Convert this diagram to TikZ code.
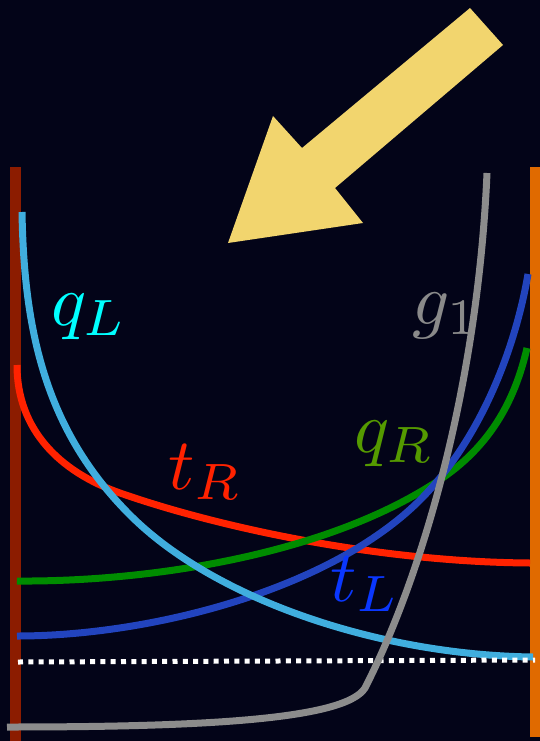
\documentclass[tikz,border=0pt]{standalone}
\usepackage{graphicx}
\definecolor{bg}{RGB}{3,4,24}
\definecolor{lbar}{RGB}{140,28,0}
\definecolor{rbar}{RGB}{224,106,0}
\definecolor{arrowyel}{RGB}{242,213,110}
\definecolor{cqL}{RGB}{64,174,222}
\definecolor{ctR}{RGB}{255,34,0}
\definecolor{cqR}{RGB}{0,140,0}
\definecolor{ctL}{RGB}{34,68,190}
\definecolor{cg}{RGB}{140,140,140}
\definecolor{lqL}{RGB}{0,255,255}
\definecolor{ltR}{RGB}{255,34,0}
\definecolor{lqR}{RGB}{85,154,0}
\definecolor{ltL}{RGB}{10,55,255}
\definecolor{lg}{RGB}{138,138,138}
\newcommand{\biglab}[1]{\scalebox{7.3}{$#1$}}
\tikzset{
  curve/.style={line width=7pt},
  lab/.style={anchor=base west, inner sep=0pt}
}
\begin{document}
\begin{tikzpicture}[x=1pt,y=-1pt]
\fill[bg] (0,0) rectangle (540,741);
\useasboundingbox (0,0) rectangle (540,741);
% arrow
\fill[arrowyel] (470,8) -- (503,45) -- (335,188) -- (363,223) -- (228,243) -- (273,116) -- (302,148) -- cycle;
% bars
\fill[lbar] (10,167) rectangle (21,741);
\fill[rbar] (530,167) rectangle (541,737);
% curves
\draw[ctR, curve] (17,365) .. controls (17,430) and (60,472) .. (120,493) .. controls (220,528) and (380,562) .. (530,563);
\draw[cqR, curve] (17,581) .. controls (150,582) and (320,555) .. (430,486) .. controls (490,450) and (515,400) .. (527,348);
\draw[ctL, curve] (17,636) .. controls (150,636) and (330,590) .. (420,500) .. controls (480,440) and (515,350) .. (528,274);
\draw[cqL, curve] (22,212) .. controls (24,330) and (45,430) .. (130,515) .. controls (215,600) and (380,655) .. (533,657);
\draw[white, line width=5pt, dash pattern=on 5pt off 5.3pt] (18,662) -- (535,660);
\draw[cg, curve] (487,173) .. controls (478,380) and (425,570) .. (365,688) .. controls (345,720) and (200,727) .. (7,727);
% labels
\node[lab, text=lqL] (qL) at (51,325) {\biglab{q_L}};
\node[lab, text=ltR] (tR) at (168,489) {\biglab{t_R}};
\node[lab, text=lqR] (qR) at (354,452) {\biglab{q_R}};
\node[lab, text=ltL] (tL) at (330,601) {\biglab{t_L}};
\node[lab, text=lg] (g1) at (412,324) {\biglab{g_1}};
\end{tikzpicture}
\end{document}
